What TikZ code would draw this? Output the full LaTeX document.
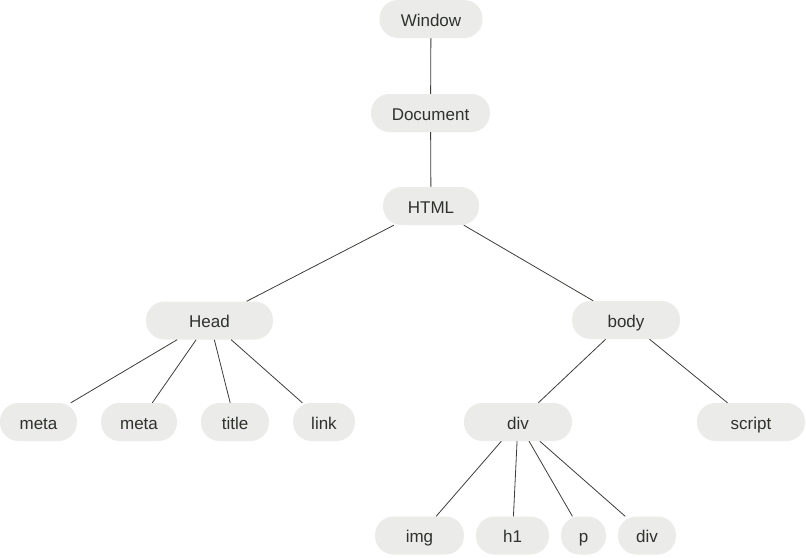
\documentclass[tikz,border=0pt]{standalone}
\usepackage{fontspec}
\setmainfont{Liberation Sans}
\usepackage{xcolor}
\usepackage{tikz}
\definecolor{treefill}{RGB}{235,235,233}
\definecolor{treetext}{RGB}{47,51,44}
\definecolor{treeline}{RGB}{60,60,58}

\begin{document}
\begin{tikzpicture}[x=1pt, y=-1pt,
    pill/.style={fill=treefill, text=treetext, rounded corners=18.5pt, minimum height=38pt, inner sep=0pt,
                 text height=14pt, text depth=0pt, font=\fontsize{17}{19}\selectfont},
    link/.style={draw=treeline, line width=0.8pt}]
    \useasboundingbox (0,0) rectangle (806,557);
    % top chain
    \node[pill, minimum width=103pt] (window) at (431,19) {Window};
    \node[pill, minimum width=119pt] (document) at (430.5,113) {Document};
    \node[pill, minimum width=96pt] (html) at (431,206) {HTML};
    % second level
    \node[pill, minimum width=127pt] (head) at (209.5,320.5) {Head};
    \node[pill, minimum width=108pt] (body) at (626,320) {body};
    % children of head and body
    \node[pill, minimum width=77pt] (meta1) at (38.5,422) {meta};
    \node[pill, minimum width=76pt] (meta2) at (139,422) {meta};
    \node[pill, minimum width=68pt] (title) at (235,422) {title};
    \node[pill, minimum width=62pt] (linktag) at (324,422) {link};
    \node[pill, minimum width=108pt] (div) at (518,422) {div};
    \node[pill, minimum width=108pt] (script) at (751,422) {script};
    % children of div
    \node[pill, minimum width=89pt] (img) at (419.5,535.5) {img};
    \node[pill, minimum width=73pt] (h1) at (512.5,535.5) {h1};
    \node[pill, minimum width=45pt] (p) at (583.5,535.5) {p};
    \node[pill, minimum width=58pt] (div2) at (647,535.5) {div};
    % edges
    \foreach \a/\b in {window/document, document/html, html/head, html/body,
                       head/meta1, head/meta2, head/title, head/linktag,
                       body/div, body/script,
                       div/img, div/h1, div/p, div/div2}
      \draw[link] (\a) -- (\b);
\end{tikzpicture}
\end{document}
